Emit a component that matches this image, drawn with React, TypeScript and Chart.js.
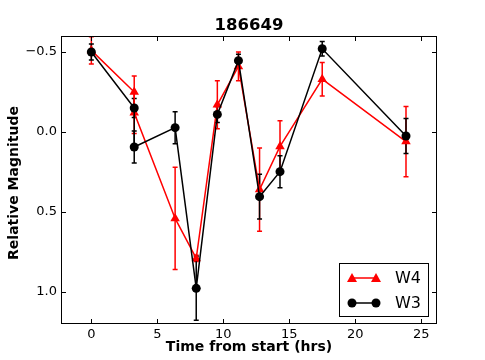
import { useEffect, useRef } from 'react';
import { Chart, registerables } from 'chart.js';
Chart.register(...registerables);

const TITLE = '186649';
const X_LABEL = 'Time from start (hrs)';
const Y_LABEL = 'Relative Magnitude';
const X_TICKS = [0, 5, 10, 15, 20, 25];
const Y_TICKS = [-0.5, 0, 0.5, 1.0];

const W4_TIME = [0, 3.25, 3.25, 6.35, 7.95, 9.55, 11.15, 12.75, 14.3, 17.5, 23.85];
const W4_MAG = [-0.51, -0.25, -0.12, 0.54, 0.79, -0.17, -0.41, 0.36, 0.09, -0.33, 0.06];
const W4_ERR = [0.085, 0.1, 0.13, 0.32, 0.02, 0.15, 0.09, 0.26, 0.16, 0.105, 0.22];

const W3_TIME = [0, 3.25, 3.25, 6.35, 7.95, 9.55, 11.15, 12.75, 14.3, 17.5, 23.85];
const W3_MAG = [-0.5, -0.15, 0.094, -0.027, 0.977, -0.11, -0.446, 0.404, 0.248, -0.52, 0.025];
const W3_ERR = [0.05, 0.06, 0.1, 0.1, 0.2, 0.05, 0.04, 0.14, 0.1, 0.045, 0.11];

const SERIES = [
  { name: 'W4', time: W4_TIME, mag: W4_MAG, err: W4_ERR, color: '#ff0000', marker: 'triangle' },
  { name: 'W3', time: W3_TIME, mag: W3_MAG, err: W3_ERR, color: '#000000', marker: 'circle' },
];

const FONT = '"DejaVu Sans", sans-serif';

const customPlugin = {
  id: 'custom',
  beforeDatasetsDraw(chart: any) {
    const ctx = chart.ctx;
    const xs = chart.scales.x;
    const ys = chart.scales.y;
    ctx.save();
    SERIES.forEach((s) => {
      ctx.strokeStyle = s.color;
      ctx.lineWidth = 1.5;
      s.time.forEach((t, i) => {
        const px = xs.getPixelForValue(t);
        const y1 = ys.getPixelForValue(s.mag[i] - s.err[i]);
        const y2 = ys.getPixelForValue(s.mag[i] + s.err[i]);
        ctx.beginPath();
        ctx.moveTo(px, y1);
        ctx.lineTo(px, y2);
        ctx.moveTo(px - 2.5, y1);
        ctx.lineTo(px + 2.5, y1);
        ctx.moveTo(px - 2.5, y2);
        ctx.lineTo(px + 2.5, y2);
        ctx.stroke();
      });
    });
    ctx.restore();
  },
  afterDraw(chart: any) {
    const ctx = chart.ctx;
    const a = chart.chartArea;
    const xs = chart.scales.x;
    const ys = chart.scales.y;
    ctx.save();
    // frame
    ctx.strokeStyle = '#000';
    ctx.lineWidth = 1;
    ctx.strokeRect(a.left + 0.5, a.top + 0.5, a.right - a.left - 1, a.bottom - a.top - 1);
    // inward ticks on all sides
    ctx.beginPath();
    X_TICKS.forEach((v) => {
      const px = Math.round(xs.getPixelForValue(v)) + 0.5;
      ctx.moveTo(px, a.bottom);
      ctx.lineTo(px, a.bottom - 5);
      ctx.moveTo(px, a.top);
      ctx.lineTo(px, a.top + 5);
    });
    Y_TICKS.forEach((v) => {
      const py = Math.round(ys.getPixelForValue(v)) + 0.5;
      ctx.moveTo(a.left, py);
      ctx.lineTo(a.left + 5, py);
      ctx.moveTo(a.right, py);
      ctx.lineTo(a.right - 5, py);
    });
    ctx.stroke();
    // title
    ctx.fillStyle = '#000';
    ctx.textAlign = 'center';
    ctx.textBaseline = 'middle';
    ctx.font = 'bold 16.5px ' + FONT;
    ctx.fillText(TITLE, (a.left + a.right) / 2, 25.5);
    // x label
    ctx.font = 'bold 14px ' + FONT;
    ctx.fillText(X_LABEL, (a.left + a.right) / 2, 347.5);
    // y label
    ctx.save();
    ctx.translate(14.5, 183);
    ctx.rotate(-Math.PI / 2);
    ctx.fillText(Y_LABEL, 0, 0);
    ctx.restore();
    // legend
    const lx = 339, ly = 263, lw = 89, lh = 53;
    ctx.fillStyle = '#fff';
    ctx.fillRect(lx, ly, lw, lh);
    ctx.strokeStyle = '#000';
    ctx.lineWidth = 1;
    ctx.strokeRect(lx + 0.5, ly + 0.5, lw, lh);
    const rows = [278, 303];
    SERIES.forEach((s, i) => {
      const y = rows[i];
      ctx.strokeStyle = s.color;
      ctx.fillStyle = s.color;
      ctx.lineWidth = 1.5;
      ctx.beginPath();
      ctx.moveTo(352, y);
      ctx.lineTo(376, y);
      ctx.stroke();
      [352, 376].forEach((mx) => {
        ctx.beginPath();
        if (s.marker === 'circle') {
          ctx.arc(mx, y, 4.5, 0, Math.PI * 2);
        } else {
          ctx.moveTo(mx, y - 5);
          ctx.lineTo(mx + 5, y + 4);
          ctx.lineTo(mx - 5, y + 4);
          ctx.closePath();
        }
        ctx.fill();
      });
      ctx.fillStyle = '#000';
      ctx.textAlign = 'left';
      ctx.font = '16px ' + FONT;
      ctx.fillText(s.name, 395, y + 1);
    });
    ctx.restore();
  },
};

export default function App() {
  const ref = useRef<HTMLCanvasElement>(null);
  useEffect(() => {
    document.body.style.margin = '0';
    const canvas = ref.current!;
    const chart = new Chart(canvas, {
      type: 'line',
      data: {
        datasets: SERIES.map((s, idx) => ({
          label: s.name,
          data: s.time.map((t, i) => ({ x: t, y: s.mag[i] })),
          borderColor: s.color,
          backgroundColor: s.color,
          borderWidth: 1.5,
          pointStyle: s.marker,
          pointRadius: s.marker === 'circle' ? 4.5 : 5.5,
          pointBorderWidth: 0,
          pointHoverRadius: 5,
          tension: 0,
          order: idx === 0 ? 1 : 0,
        })),
      },
      options: {
        animation: false,
        responsive: false,
        layout: { padding: { top: 36, right: 48, left: 0, bottom: 0 } },
        plugins: { legend: { display: false }, title: { display: false }, tooltip: { enabled: false } },
        scales: {
          x: {
            type: 'linear',
            min: -2.3,
            max: 26.2,
            grid: { display: false, drawTicks: false },
            border: { display: false },
            afterBuildTicks: (sc: any) => { sc.ticks = X_TICKS.map((v) => ({ value: v })); },
            afterFit: (sc: any) => { sc.height = 36; },
            ticks: { padding: 3, color: '#000', font: { family: FONT, size: 13 }, callback: (v: any) => String(v) },
          },
          y: {
            type: 'linear',
            reverse: true,
            min: -0.6,
            max: 1.2,
            grid: { display: false, drawTicks: false },
            border: { display: false },
            afterBuildTicks: (sc: any) => { sc.ticks = Y_TICKS.map((v) => ({ value: v })); },
            afterFit: (sc: any) => { sc.width = 61; },
            ticks: {
              padding: 4,
              color: '#000',
              font: { family: FONT, size: 13 },
              callback: (v: any) => (v < 0 ? '\u2212' + Math.abs(v).toFixed(1) : Number(v).toFixed(1)),
            },
          },
        },
      },
      plugins: [customPlugin],
    });
    return () => chart.destroy();
  }, []);
  return (
    <div style={{ width: 485, height: 360 }}>
      <canvas ref={ref} width={485} height={360} />
    </div>
  );
}
